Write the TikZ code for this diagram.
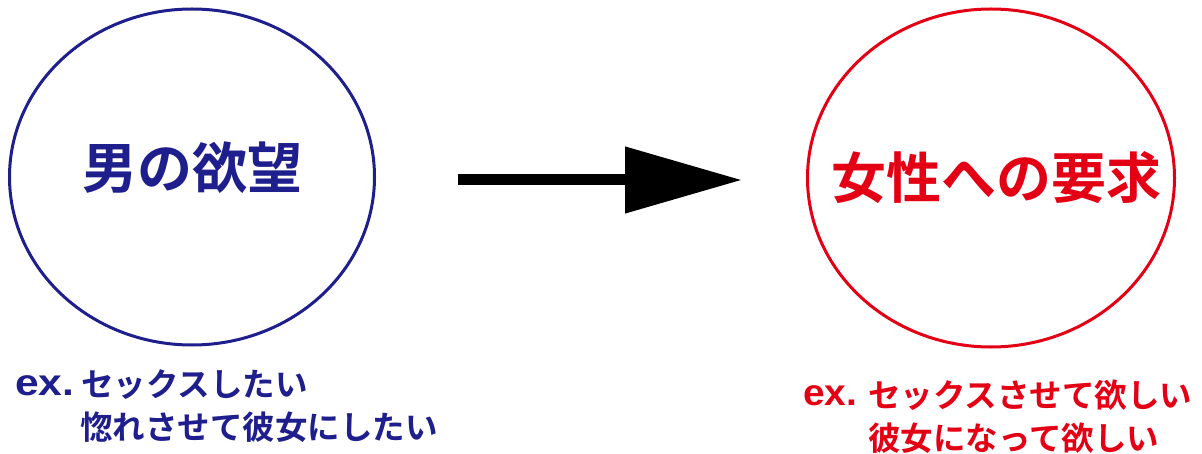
\documentclass[tikz,border=0pt]{standalone}
\usepackage{fontspec}
\newfontfamily\cjk{Noto Sans CJK JP}[BoldFont={Noto Sans CJK JP Bold}]
\newfontfamily\lat{Liberation Sans}
\usetikzlibrary{arrows.meta,shapes.geometric}
\definecolor{navy}{RGB}{30,30,140}
\definecolor{redc}{RGB}{228,0,20}
\tikzset{
  bubble/.style={ellipse, draw=#1, line width=3pt, minimum width=365pt, minimum height=336pt, inner sep=0pt},
  title/.style={text=#1, font=\cjk\bfseries\fontsize{55}{60}\selectfont, inner sep=0pt},
  example/.style={text=#1, font=\cjk\bfseries\fontsize{32.5}{36}\selectfont, inner sep=0pt, anchor=west},
  exlabel/.style={text=#1, font=\lat\bfseries\fontsize{37}{40}\selectfont, inner sep=0pt, anchor=west},
  bigarrow/.style={line width=11pt, -{Triangle[length=117pt,width=64pt]}}
}
\begin{document}
\begin{tikzpicture}[x=1pt,y=-1pt]
\useasboundingbox (0,0) rectangle (1202,454);
\node[bubble=navy] (men) at (192,177) {};
\node[title=navy] (menT) at (192,168) {男の欲望};
\node[bubble=redc, minimum height=338pt, minimum width=367pt] (wom) at (991,178) {};
\node[title=redc] (womT) at (996,178) {女性への要求};
\coordinate (a1) at (458,180);
\coordinate (a2) at (742,180);
\draw[bigarrow] (a1) -- (a2);
\node[exlabel=navy] (l1x) at (15,385.5) {\scalebox{1.15}[1]{ex.}};
\node[example=navy] (l1) at (81,385) {セックスしたい};
\node[example=navy] (l2) at (80,427) {惚れさせて彼女にしたい};
\node[exlabel=redc] (r1x) at (803,395.5) {\scalebox{1.05}[1]{ex.}};
\node[example=redc] (r1) at (868,395) {セックスさせて欲しい};
\node[example=redc] (r2) at (868,438) {彼女になって欲しい};
\end{tikzpicture}
\end{document}
